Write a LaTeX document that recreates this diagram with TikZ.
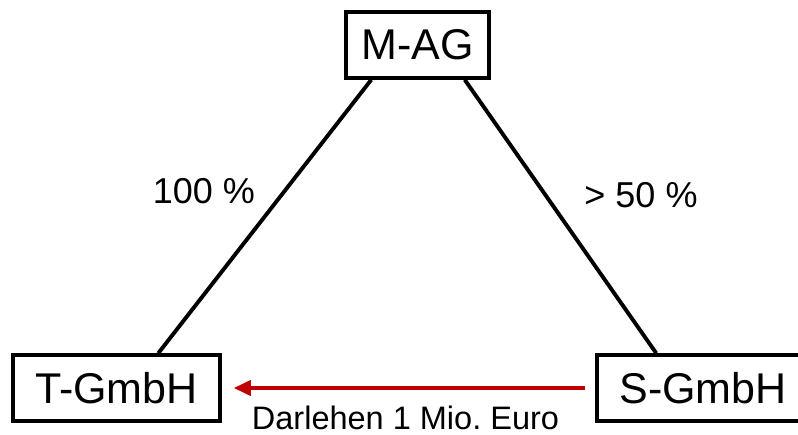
\documentclass[tikz,border=0pt]{standalone}
\usepackage{fontspec}
\setmainfont{Liberation Sans}
\usetikzlibrary{arrows.meta}
\definecolor{darkred}{RGB}{192,0,0}
\begin{document}
\begin{tikzpicture}[x=1pt,y=-1pt,
  entity/.style={draw=black, line width=3.5pt, minimum height=66pt, inner sep=0pt, font=\fontsize{43}{48}\selectfont},
  share/.style={line width=3.9pt, draw=black},
  lbl/.style={anchor=base, inner sep=0pt, font=\fontsize{36}{40}\selectfont},
  loan/.style={draw=darkred, line width=3.8pt, -{Triangle[length=17pt,width=15pt]}}]
\useasboundingbox (0,0) rectangle (798,434);
\clip (0,0) rectangle (798,434);
\node[entity, minimum width=143pt] (mag) at (417.5,45) {M-AG};
\node[entity, minimum width=207pt] (tg) at (116.5,388) {T-GmbH};
\node[entity, minimum width=212pt] (sg) at (703,388) {S-GmbH};
\draw[share] ([xshift=27pt]mag.south west) -- ([xshift=147pt]tg.north west);
\draw[share] ([xshift=-26pt]mag.south east) -- ([xshift=61pt]sg.north west);
\draw[loan, shorten <=10pt, shorten >=12pt] (sg.west) -- (tg.east);
\node[lbl] (p1) at (204,203) {100 \%};
\node[lbl] (p2) at (641,207) {> 50 \%};
\node[lbl, font=\fontsize{32.5}{36}\selectfont] (dl) at (405.5,429) {Darlehen 1 Mio.\ Euro};
\end{tikzpicture}
\end{document}
